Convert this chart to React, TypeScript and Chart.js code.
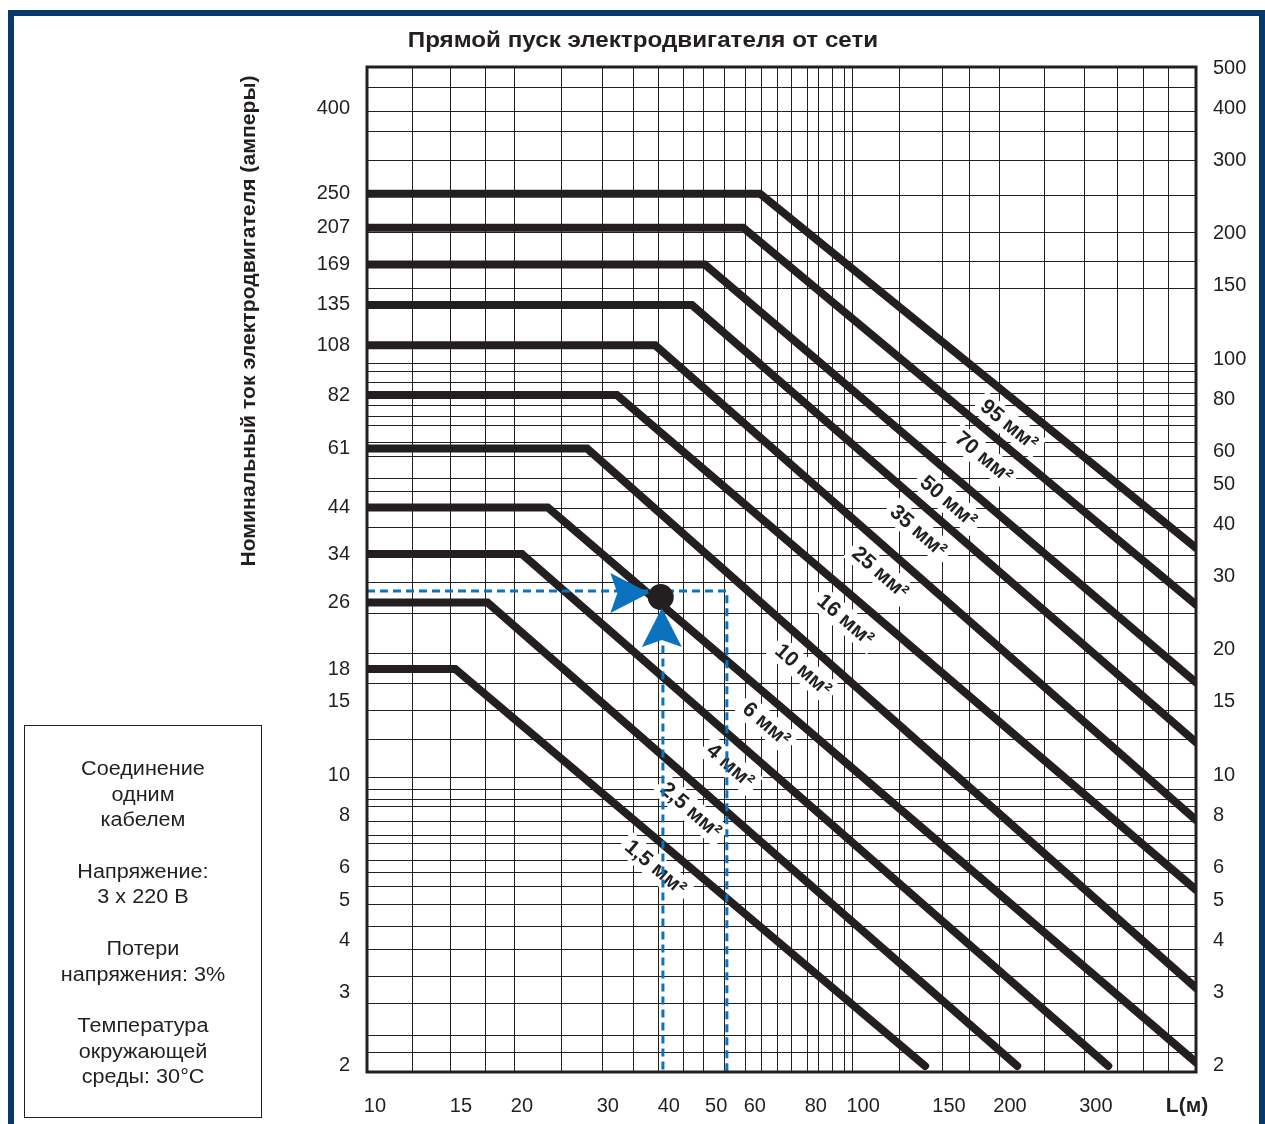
import React, { useEffect, useRef } from 'react';
import { Chart, registerables } from 'chart.js';

Chart.register(...registerables);

const FONT = '"Liberation Sans", Arial, Helvetica, sans-serif';
const INK = '#231f20';
const BLUE = '#0b72bd';
const FRAME = '#063a6e';

const TITLE = 'Прямой пуск электродвигателя от сети';
const Y_TITLE = 'Номинальный ток электродвигателя (амперы)';
const X_UNIT = 'L(м)';
const NOTE_LINES = [
  'Соединение', 'одним', 'кабелем', '',
  'Напряжение:', '3 x 220 В', '',
  'Потери', 'напряжения: 3%', '',
  'Температура', 'окружающей', 'среды: 30°C',
];

// Cable cross-sections (мм²) and their curves: horizontal at rated current, then falling
const cableSizes = ['1,5', '2,5', '4', '6', '10', '16', '25', '35', '50', '70', '95'];
const ratedCurrent = [18, 26, 34, 44, 61, 82, 108, 135, 169, 207, 250];
const kneeLength = [14.6, 17.0, 20.0, 22.6, 27.2, 31.3, 37.5, 44.6, 47.4, 56.8, 61.5];
const endLength = [134, 207, 318, 481, 481, 481, 481, 481, 481, 481, 481];
const endCurrent = [2, 2, 2, 2.04, 3.08, 5.3, 7.8, 12.0, 16.7, 25.7, 35.2];
const labelLength = [40.2, 47.6, 57.3, 67.9, 80.9, 98.6, 116.3, 139.1, 160.3, 189.1, 212.8];

// Axis ranges
const L_MIN = 9.63;
const L_MAX = 481;
const I_MIN = 1.934;
const I_MAX = 504;
const L_UNIT_POS = 461;

// Tick labels
const lengthTicks = [10, 15, 20, 30, 40, 50, 60, 80, 100, 150, 200, 300];
const leftCurrentTicks = [400, 250, 207, 169, 135, 108, 82, 61, 44, 34, 26, 18, 15, 10, 8, 6, 5, 4, 3, 2];
const rightCurrentTicks = [500, 400, 300, 200, 150, 100, 80, 60, 50, 40, 30, 20, 15, 10, 8, 6, 5, 4, 3, 2];

// Grid lines (values)
const lengthGrid = [11.96, 14.31, 16.88, 19.27, 24.05, 29.19, 33.79, 38.02, 42.77, 47.0, 52.1, 57.3, 61.8, 66.7,
  71.5, 76.8, 81.2, 86.4, 91.4, 94.95, 118.5, 145.2, 164.9, 189.9, 234.9, 283.8, 331.6, 374.9, 421.7];
const currentGrid = [451, 395, 352, 300, 247, 202, 172, 148, 97.9, 93.2, 87.7, 82.5, 77.6, 73.0, 69.1, 63.2, 58.2,
  51.8, 48.0, 43.7, 39.5, 33.8, 29.1, 24.5, 19.6, 16.6, 14.3, 12.2, 9.85, 9.22, 8.72, 8.39, 7.72, 7.18, 6.84,
  6.22, 5.82, 5.39, 4.88, 4.32, 3.80, 3.29, 2.83, 2.37, 2.15];

// Worked example (blue guides)
const exampleLength = 38.5;
const exampleCurrent = 26.8;
const guideHorizontalL = [L_MIN, 52.6, 52.6];
const guideHorizontalI = [27.7, 27.7, I_MIN];
const guideVerticalL = [38.9, 38.9];
const guideVerticalI = [20.5, I_MIN];
const arrowL = [33.2, 38.7];
const arrowI = [27.4, 22.6];
const arrowDir = ['right', 'up'];

const tickFont = { family: FONT, size: 20 };

function fixedTicks(values: number[]) {
  return (scale: any) => {
    scale.ticks = values.map((v) => ({ value: v }));
  };
}

const overlayPlugin = {
  id: 'overlay',
  beforeDatasetsDraw(chart: any) {
    const { ctx } = chart;
    const xs = chart.scales.x;
    const ys = chart.scales.y;
    cableSizes.forEach((size, i) => {
      const x1 = xs.getPixelForValue(kneeLength[i]);
      const y1 = ys.getPixelForValue(ratedCurrent[i]);
      const x2 = xs.getPixelForValue(endLength[i]);
      const y2 = ys.getPixelForValue(endCurrent[i]);
      const a = Math.atan2(y2 - y1, x2 - x1);
      const px = xs.getPixelForValue(labelLength[i]);
      const t = (px - x1) / (x2 - x1);
      const py = y1 + t * (y2 - y1);
      const off = 22;
      const cx = px - Math.sin(a) * off;
      const cy = py + Math.cos(a) * off;
      ctx.save();
      ctx.translate(cx, cy);
      ctx.rotate(a);
      ctx.font = `bold 21px ${FONT}`;
      const text = `${size} мм²`;
      const w = ctx.measureText(text).width;
      ctx.fillStyle = '#ffffff';
      ctx.fillRect(-w / 2 - 5, -12, w + 10, 25);
      ctx.fillStyle = INK;
      ctx.textAlign = 'center';
      ctx.textBaseline = 'middle';
      ctx.fillText(text, 0, 1);
      ctx.restore();
    });
  },
  afterDatasetsDraw(chart: any) {
    const { ctx, chartArea } = chart;
    const xs = chart.scales.x;
    const ys = chart.scales.y;
    arrowL.forEach((l, i) => {
      const px = xs.getPixelForValue(l);
      const py = ys.getPixelForValue(arrowI[i]);
      ctx.save();
      ctx.translate(px, py);
      ctx.rotate(arrowDir[i] === 'up' ? -Math.PI / 2 : 0);
      ctx.beginPath();
      ctx.moveTo(20, 0);
      ctx.lineTo(-19, -20);
      ctx.lineTo(-12, 0);
      ctx.lineTo(-19, 20);
      ctx.closePath();
      ctx.fillStyle = BLUE;
      ctx.fill();
      ctx.restore();
    });
    ctx.save();
    ctx.strokeStyle = INK;
    ctx.lineWidth = 3;
    ctx.strokeRect(chartArea.left, chartArea.top, chartArea.right - chartArea.left, chartArea.bottom - chartArea.top);
    ctx.restore();
  },
};

export default function App() {
  const ref = useRef<HTMLCanvasElement>(null);

  useEffect(() => {
    const canvas = ref.current;
    if (!canvas) return;

    const cableDatasets = cableSizes.map((size, i) => ({
      label: `${size} мм²`,
      data: [
        { x: L_MIN, y: ratedCurrent[i] },
        { x: kneeLength[i], y: ratedCurrent[i] },
        { x: endLength[i], y: endCurrent[i] },
      ],
      borderColor: INK,
      borderWidth: 8,
      pointRadius: 0,
      borderCapStyle: 'round',
      borderJoinStyle: 'miter',
      clip: 0,
      order: 3,
    }));

    const datasets: any[] = [
      {
        label: 'point',
        data: [{ x: exampleLength, y: exampleCurrent }],
        showLine: false,
        pointRadius: 13,
        pointBackgroundColor: INK,
        pointBorderColor: INK,
        pointBorderWidth: 0,
        order: 0,
      },
      {
        label: 'guideH',
        data: guideHorizontalL.map((l, i) => ({ x: l, y: guideHorizontalI[i] })),
        borderColor: BLUE,
        borderWidth: 3,
        borderDash: [8, 5],
        pointRadius: 0,
        clip: 0,
        order: 1,
      },
      {
        label: 'guideV',
        data: guideVerticalL.map((l, i) => ({ x: l, y: guideVerticalI[i] })),
        borderColor: BLUE,
        borderWidth: 3,
        borderDash: [8, 5],
        pointRadius: 0,
        clip: 0,
        order: 1,
      },
      ...cableDatasets,
    ];

    const chart = new Chart(canvas, {
      type: 'line',
      data: { datasets },
      options: {
        responsive: false,
        devicePixelRatio: 1,
        animation: false,
        events: [],
        layout: { padding: { left: 0, right: 0, top: 67, bottom: 0 }, autoPadding: false },
        plugins: { legend: { display: false }, tooltip: { enabled: false }, title: { display: false } },
        scales: {
          x: {
            type: 'logarithmic',
            position: 'bottom',
            min: L_MIN,
            max: L_MAX,
            grid: { display: false, drawTicks: false },
            border: { display: false },
            afterBuildTicks: fixedTicks([...lengthTicks, L_UNIT_POS]),
            afterFit: (s: any) => { s.height = 52; },
            ticks: {
              autoSkip: false,
              maxRotation: 0,
              minRotation: 0,
              padding: 22,
              color: INK,
              font: (c: any) => (c.tick && c.tick.value === L_UNIT_POS
                ? { family: FONT, size: 21, weight: 'bold' }
                : tickFont),
              callback: (v: any) => (v === L_UNIT_POS ? X_UNIT : String(v)),
            },
          },
          xg: {
            type: 'logarithmic',
            position: 'top',
            min: L_MIN,
            max: L_MAX,
            grid: { color: INK, lineWidth: 1, drawTicks: false },
            border: { display: false },
            ticks: { display: false },
            afterBuildTicks: fixedTicks(lengthGrid),
            afterFit: (s: any) => { s.height = 0; },
          },
          y: {
            type: 'logarithmic',
            position: 'left',
            min: I_MIN,
            max: I_MAX,
            grid: { display: false, drawTicks: false },
            border: { display: false },
            afterBuildTicks: fixedTicks(leftCurrentTicks),
            afterFit: (s: any) => { s.width = 367; },
            ticks: {
              autoSkip: false,
              padding: 17,
              color: INK,
              font: tickFont,
              callback: (v: any) => String(v),
            },
          },
          y2: {
            type: 'logarithmic',
            position: 'right',
            min: I_MIN,
            max: I_MAX,
            grid: { display: false, drawTicks: false },
            border: { display: false },
            afterBuildTicks: fixedTicks(rightCurrentTicks),
            afterFit: (s: any) => { s.width = 69; },
            ticks: {
              autoSkip: false,
              padding: 17,
              color: INK,
              font: tickFont,
              callback: (v: any) => String(v),
            },
          },
          yg: {
            type: 'logarithmic',
            position: 'left',
            min: I_MIN,
            max: I_MAX,
            grid: { color: INK, lineWidth: 1, drawTicks: false },
            border: { display: false },
            ticks: { display: false },
            afterBuildTicks: fixedTicks(currentGrid),
            afterFit: (s: any) => { s.width = 0; },
          },
        },
      } as any,
      plugins: [overlayPlugin],
    });

    return () => chart.destroy();
  }, []);

  return (
    <div
      style={{
        position: 'fixed', left: 0, top: 0, width: 1265, height: 1124, overflow: 'hidden',
        background: '#ffffff', fontFamily: FONT, color: INK,
      }}
    >
      <canvas ref={ref} width={1265} height={1124} style={{ position: 'absolute', left: 0, top: 0, width: 1265, height: 1124 }} />
      <div
        style={{
          position: 'absolute', left: 8, top: 10, width: 1257, height: 1300, boxSizing: 'border-box',
          border: `6px solid ${FRAME}`, pointerEvents: 'none',
        }}
      />
      <div
        style={{
          position: 'absolute', left: 643, top: 40, transform: 'translate(-50%, -50%) scaleX(1.1)', whiteSpace: 'nowrap',
          fontWeight: 'bold', fontSize: 22,
        }}
      >
        {TITLE}
      </div>
      <div
        style={{
          position: 'absolute', left: 248, top: 321, transform: 'translate(-50%, -50%) rotate(-90deg) scaleX(1.06)',
          whiteSpace: 'nowrap', fontWeight: 'bold', fontSize: 20,
        }}
      >
        {Y_TITLE}
      </div>
      <div
        style={{
          position: 'absolute', left: 24, top: 725, width: 238, height: 393, boxSizing: 'border-box',
          border: `1px solid ${INK}`, paddingTop: 30, textAlign: 'center', fontSize: 20, lineHeight: '25.7px',
        }}
      >
        {NOTE_LINES.map((line, i) => (
          <div key={i} style={{ height: 25.7, transform: 'scaleX(1.08)' }}>{line}</div>
        ))}
      </div>
    </div>
  );
}
